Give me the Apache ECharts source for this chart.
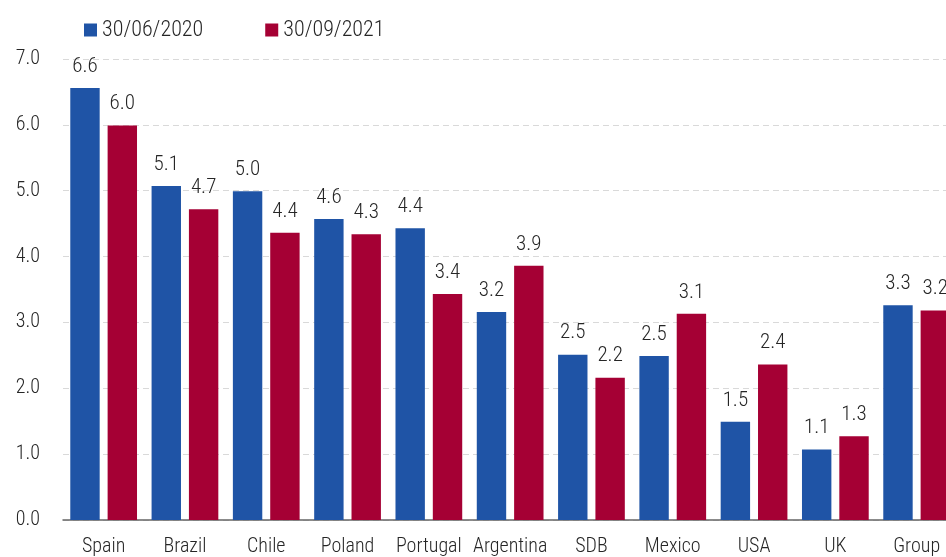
<!DOCTYPE html>
<html>
<head>
<meta charset="utf-8">
<script src="https://cdn.jsdelivr.net/npm/echarts@6/dist/echarts.min.js"></script>
<style>
html,body{margin:0;padding:0;background:#fff;}
#chart{width:946px;height:557px;}
</style>
</head>
<body>
<div id="chart"></div>
<script>
const categories = ['Spain','Brazil','Chile','Poland','Portugal','Argentina','SDB','Mexico','USA','UK','Group'];
const seriesNames = ['30/06/2020','30/09/2021'];
const values2020 = [6.56,5.07,4.99,4.57,4.43,3.16,2.51,2.49,1.49,1.07,3.26];
const values2021 = [5.99,4.72,4.36,4.34,3.43,3.86,2.16,3.13,2.36,1.27,3.18];
const yTicks = [0,1,2,3,4,5,6,7];

const FONT = '"Roboto Condensed","DejaVu Sans Condensed",sans-serif';
const W = 300;
const TXT = '#262626';

const chart = echarts.init(document.getElementById('chart'));
const labelCfg = {
  show: true, position: 'top', distance: 11,
  fontFamily: FONT, fontWeight: W, fontSize: 21, color: TXT,
  formatter: p => p.value.toFixed(1)
};
chart.setOption({
  animation: false,
  legend: {
    left: 79, top: 14, itemWidth: 13, itemHeight: 13, itemGap: 62,
    icon: 'rect',
    textStyle: {fontFamily: FONT, fontWeight: W, fontSize: 22, color: TXT},
    data: seriesNames
  },
  grid: {left: 63, top: 59, width: 894.3, height: 461, containLabel: false, outerBoundsMode: 'none'},
  xAxis: {
    type: 'category', data: categories,
    axisLine: {lineStyle: {color: '#666', width: 1.5}},
    axisTick: {show: false},
    axisLabel: {fontFamily: FONT, fontWeight: W, fontSize: 20, color: TXT, margin: 17, interval: 0}
  },
  yAxis: {
    type: 'value', min: yTicks[0], max: yTicks[yTicks.length-1], interval: 1,
    axisLine: {show: false}, axisTick: {show: false},
    splitLine: {lineStyle: {color: '#d9d9d9', type: [6,4], width: 1}},
    axisLabel: {fontFamily: FONT, fontWeight: W, fontSize: 20, color: TXT, margin: 23,
      formatter: v => v.toFixed(1)}
  },
  series: [
    {name: seriesNames[0], type: 'bar', data: values2020, barWidth: 29.4, barGap: '27%',
     itemStyle: {color: '#1F54A6'}, label: labelCfg},
    {name: seriesNames[1], type: 'bar', data: values2021, barWidth: 29.4, barGap: '27%',
     itemStyle: {color: '#A50034'}, label: labelCfg}
  ]
});
</script>
</body>
</html>
